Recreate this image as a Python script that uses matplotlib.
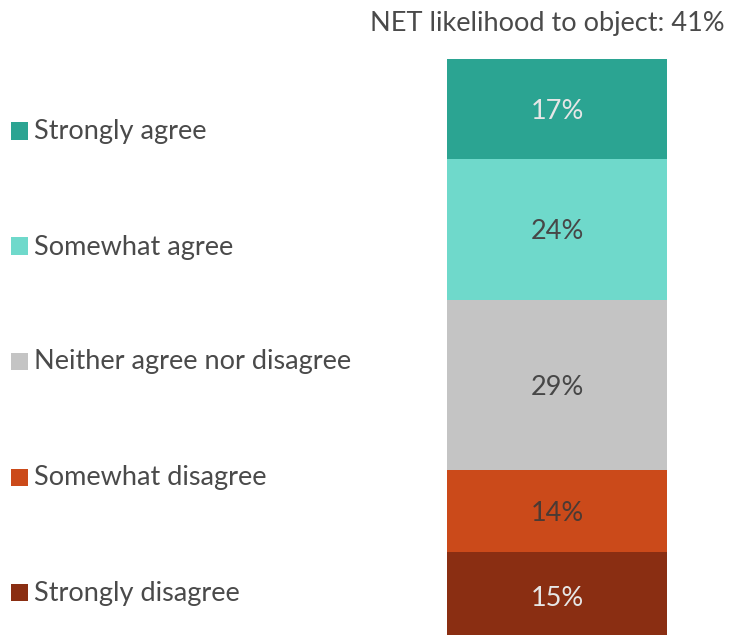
import matplotlib
matplotlib.use("Agg")
import matplotlib.pyplot as plt
from matplotlib.patches import Rectangle

categories = ["Strongly agree", "Somewhat agree", "Neither agree nor disagree",
              "Somewhat disagree", "Strongly disagree"]
values = [17, 24, 29, 14, 15]
colors = ["#2BA492", "#6FD9CB", "#C4C4C4", "#CB4A1A", "#8A2E12"]
label_colors = ["#E6E6E6", "#474747", "#474747", "#4A3A34", "#E6E6E6"]
title = "NET likelihood to object: 41%"

plt.rcParams["font.family"] = ["Lato", "DejaVu Sans"]
FS = 19.5
TEXT = "#4A4A4A"

W, H = 730, 635
fig = plt.figure(figsize=(W / 100, H / 100), dpi=100)
fig.patch.set_facecolor("white")

# Bar area in pixel coordinates (bottom runs slightly past the canvas edge)
x0, x1 = 447, 667
y_top, y_bot = 59, 640
ax = fig.add_axes([x0 / W, 1 - y_bot / H, (x1 - x0) / W, (y_bot - y_top) / H])
ax.set_xlim(-0.5, 0.5)
total = sum(values)
ax.set_ylim(total, 0)
ax.axis("off")

bottom = 0
for v, c, lc in zip(values, colors, label_colors):
    ax.bar(0, v, width=1.0, bottom=bottom, color=c, edgecolor="none")
    ax.text(0, bottom + v / 2 + 0.45, f"{v}%", ha="center", va="center",
            fontsize=FS, color=lc, fontweight="normal")
    bottom += v

fig.text(725 / W, 1 - 23 / H, title, ha="right", va="center",
         fontsize=FS, color=TEXT, fontweight="normal")

# Legend entries on the left
leg_y = [131, 246, 361, 477, 592]
for name, c, y in zip(categories, colors, leg_y):
    fig.add_artist(Rectangle((11 / W, 1 - (y + 8.5) / H), 17 / W, 17 / H,
                             transform=fig.transFigure, facecolor=c,
                             edgecolor="none"))
    fig.text(34 / W, 1 - (y + 1) / H, name, ha="left", va="center",
             fontsize=FS, color=TEXT, fontweight="normal")

fig.savefig("out.png", dpi=100, facecolor="white")
